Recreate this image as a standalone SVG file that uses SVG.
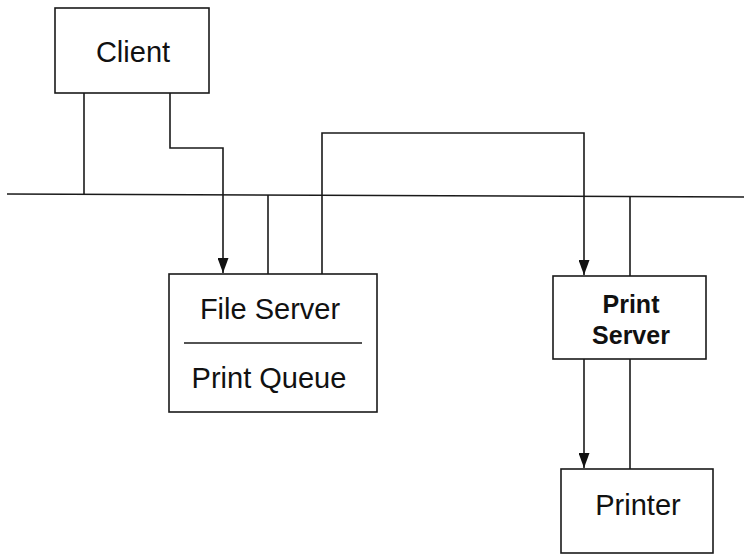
<svg xmlns="http://www.w3.org/2000/svg" width="744" height="555" viewBox="0 0 744 555">
  <style>
    .box { fill: #fff; stroke: #1a1a1a; stroke-width: 1.6; }
    .wire { fill: none; stroke: #1a1a1a; stroke-width: 1.6; }
    .lbl { font-family: "Liberation Sans", Arial, sans-serif; font-size: 29px; fill: #111; text-anchor: middle; }
    .bold { font-weight: bold; font-size: 25px; }
  </style>
  <defs>
    <marker id="arrowDown" markerWidth="11" markerHeight="15" refX="5.5" refY="15" orient="0" markerUnits="userSpaceOnUse" viewBox="0 0 11 15">
      <path d="M0,0 L11,0 L5.5,15 Z" fill="#111"/>
    </marker>
  </defs>
  <rect width="744" height="555" fill="#fff"/>

  <!-- connectors -->
  <g id="connectors">
    <!-- network bus -->
    <line class="wire" x1="7" y1="194" x2="744" y2="197"/>
    <!-- client to bus -->
    <line class="wire" x1="84" y1="93" x2="84" y2="194"/>
    <!-- client to file server -->
    <path class="wire" d="M170,93 V148 H223 V273" marker-end="url(#arrowDown)"/>
    <!-- file server to bus -->
    <line class="wire" x1="268" y1="195" x2="268" y2="274"/>
    <!-- file server (print queue) to print server -->
    <path class="wire" d="M322,274 V133 H584 V275" marker-end="url(#arrowDown)"/>
    <!-- print server to bus -->
    <line class="wire" x1="630" y1="196" x2="630" y2="276"/>
    <!-- print server to printer -->
    <line class="wire" x1="584" y1="359" x2="584" y2="468" marker-end="url(#arrowDown)"/>
    <line class="wire" x1="630" y1="359" x2="630" y2="469"/>
  </g>

  <g id="client">
    <rect class="box" x="55" y="8" width="154" height="85"/>
    <text class="lbl" x="133" y="62">Client</text>
  </g>

  <g id="file-server">
    <rect class="box" x="169" y="274" width="208" height="138"/>
    <line class="wire" x1="184" y1="343" x2="362" y2="343"/>
    <text class="lbl" x="270" y="319">File Server</text>
    <text class="lbl" x="269" y="388">Print Queue</text>
  </g>

  <g id="print-server">
    <rect class="box" x="553" y="276" width="153" height="83"/>
    <text class="lbl bold" x="631" y="313">Print</text>
    <text class="lbl bold" x="631" y="344">Server</text>
  </g>

  <g id="printer">
    <rect class="box" x="561" y="469" width="152" height="84"/>
    <text class="lbl" x="638" y="515">Printer</text>
  </g>
</svg>
